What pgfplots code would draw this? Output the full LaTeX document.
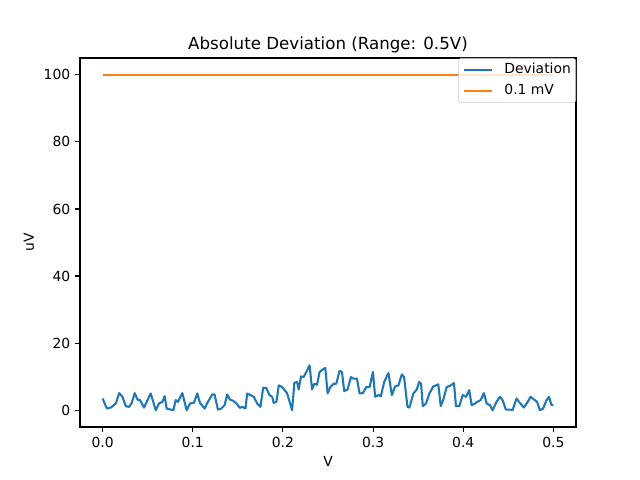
\documentclass[border=0pt]{standalone}
\usepackage{fontspec}
\setmainfont{DejaVu Sans}
\usepackage{pgfplots}
\pgfplotsset{compat=1.18}
\definecolor{c0}{HTML}{1F77B4}
\definecolor{c1}{HTML}{FF7F0E}
\begin{document}
\begin{tikzpicture}
\useasboundingbox (0,0) rectangle (460.8pt,345.6pt);
\begin{axis}[
  at={(57.6pt,38.16pt)}, anchor=south west,
  scale only axis, width=357.12pt, height=265.68pt,
  xmin=-0.025, xmax=0.525, ymin=-5, ymax=105,
  axis line style={line width=0.8pt},
  tick pos=left, tick align=outside,
  major tick length=3.5pt,
  every tick/.style={black, line width=0.8pt},
  xtick={0,0.1,0.2,0.3,0.4,0.5},
  xticklabels={0.0,0.1,0.2,0.3,0.4,0.5},
  ytick={0,20,40,60,80,100},
  /pgf/number format/assume math mode=true,
  ticklabel style={font=\fontsize{10}{12}\selectfont},
  title={Absolute Deviation (Range: 0.5V)},
  every axis title/.style={font=\fontsize{12}{14}\selectfont, at={(0.5,1)}, anchor=base, yshift=6pt, inner sep=0pt},
  xlabel={V}, ylabel={uV},
  label style={font=\fontsize{10}{12}\selectfont},
  legend style={at={(1,1)}, anchor=north east, draw=black!20, fill=white,
    fill opacity=0.8, text opacity=1, rounded corners=2pt,
    font=\fontsize{10}{12}\selectfont, inner xsep=3.5pt, inner ysep=3.5pt,
    row sep=5pt, nodes={inner sep=0pt, text height=7.5pt, text depth=2.5pt}},
  legend cell align=left,
  legend image code/.code={\draw[#1] (0pt,0pt) -- (20pt,0pt); \path (28pt,0pt);},
]
\addplot[c0, line width=1.5pt, line join=round] coordinates {
(0,3.5) (0.0048,0.5) (0.0092,0.8) (0.0147,2) (0.0184,5.1) (0.0221,4) (0.0258,1.2) (0.0294,1) (0.0321,2) (0.0357,5.1)
(0.0387,3.2) (0.0416,3) (0.0460,0.8) (0.0534,5) (0.0590,0) (0.0626,2) (0.0664,2.5) (0.0689,4.2) (0.0711,0.5) (0.0755,0.2)
(0.0785,0) (0.0811,3) (0.0836,2.5) (0.0885,5.1) (0.0933,0) (0.0969,2) (0.1013,2.2) (0.1051,5) (0.1080,2.2) (0.1132,0.5)
(0.1162,2.2) (0.1217,4.7) (0.1242,4.7) (0.1279,0.2) (0.1316,0.5) (0.1353,1.5) (0.1383,4.7) (0.1412,3.2) (0.1449,2.8) (0.1486,2)
(0.1522,0.7) (0.1549,1) (0.1585,0.5) (0.1604,5) (0.1640,4.5) (0.1677,4) (0.1715,2) (0.1751,1) (0.1781,6.7) (0.1817,6.6)
(0.1851,4.5) (0.1881,4) (0.1898,2.2) (0.1928,2.5) (0.1954,7.4) (0.1991,6.9) (0.2046,5.1) (0.2102,0) (0.2127,8.2) (0.2157,8.4)
(0.2175,6.2) (0.2201,10.1) (0.2230,9.9) (0.2260,11.4) (0.2296,13.4) (0.2323,6.2) (0.2348,7.9) (0.2378,7.6) (0.2407,11.4) (0.2445,12.2)
(0.2470,12.6) (0.2496,5) (0.2525,6.9) (0.2562,7.9) (0.2592,7.9) (0.2628,11.7) (0.2655,11.4) (0.2680,5.7) (0.2717,6.2) (0.2754,9.9)
(0.2783,9.4) (0.2821,9.4) (0.2850,5) (0.2887,5.1) (0.2924,6.9) (0.2962,6.9) (0.2998,11.4) (0.3023,4) (0.3060,4.5) (0.3086,4.2)
(0.3123,8.4) (0.3170,11.1) (0.3208,4.5) (0.3244,7.1) (0.3281,7.4) (0.3319,10.7) (0.3344,9.9) (0.3381,1) (0.3403,0.8) (0.3447,5)
(0.3485,6.2) (0.3510,8.4) (0.3532,7.9) (0.3551,1.2) (0.3587,2) (0.3624,5) (0.3668,7.1) (0.3698,7.4) (0.3723,7.7) (0.3750,1.2)
(0.3779,3.2) (0.3816,6.9) (0.3861,7.4) (0.3897,8.1) (0.3919,1.2) (0.3956,1.2) (0.3993,4.5) (0.4030,4) (0.4066,6) (0.4093,1.5)
(0.4129,2) (0.4155,2.5) (0.4192,3) (0.4229,5.1) (0.4259,2) (0.4295,1.5) (0.4325,0) (0.4369,2.5) (0.4406,4) (0.4436,3)
(0.4472,0.2) (0.4516,0.2) (0.4546,0) (0.4591,3.5) (0.4627,2.2) (0.4671,0.8) (0.4708,2.2) (0.4746,4) (0.4793,3) (0.4819,2.5)
(0.4849,0) (0.4885,0.5) (0.4923,3) (0.4951,4) (0.4978,1.5) (0.5,1.5)
};
\addlegendentry{Deviation}
\addplot[c1, line width=1.5pt] coordinates {(0,100) (0.5,100)};
\addlegendentry{0.1 mV}
\end{axis}
\end{tikzpicture}
\end{document}
